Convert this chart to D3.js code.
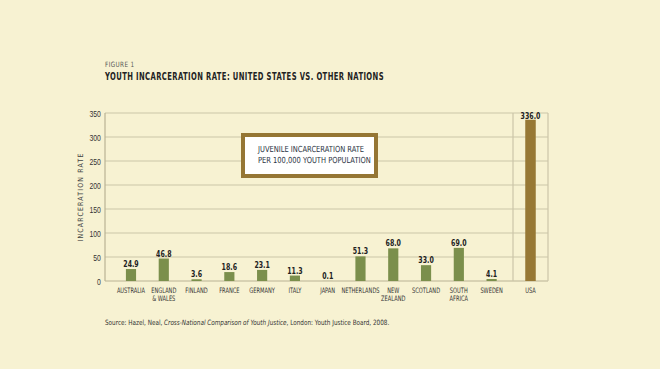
<!DOCTYPE html>
<html>
<head>
<meta charset="utf-8">
<script src="https://cdn.jsdelivr.net/npm/d3@7"></script>
<style>
  body { margin: 0; background: #f7f2d2; }
  svg { display: block; font-family: "DejaVu Sans", sans-serif; }
</style>
</head>
<body>
<svg id="chart"></svg>
<script>
// data
var nations = ["AUSTRALIA", "ENGLAND\n& WALES", "FINLAND", "FRANCE", "GERMANY", "ITALY",
  "JAPAN", "NETHERLANDS", "NEW\nZEALAND", "SCOTLAND", "SOUTH\nAFRICA", "SWEDEN"];
var nationRates = [24.9, 46.8, 3.6, 18.6, 23.1, 11.3, 0.1, 51.3, 68.0, 33.0, 69.0, 4.1];
var usLabel = ["USA"];
var usRate = [336.0];
var yTicks = [0, 50, 100, 150, 200, 250, 300, 350];

var width = 660, height = 369;
var margins = { top: 113, bottom: 88, left: 105, right: 112 };

var svg = d3.select("svg#chart").attr("width", width).attr("height", height);
svg.append("rect").attr("width", width).attr("height", height).attr("fill", "#f7f2d2");

var yScale = d3.scaleLinear().domain([0, 350]).range([height - margins.bottom, margins.top]);
var xScale = d3.scaleBand().domain(nations).range([114.6, 508]).paddingInner(0.69).paddingOuter(0.345);
var xUsa = d3.scaleBand().domain(usLabel).range([513, width - margins.right]).paddingInner(0.7).paddingOuter(0.35);

var x0 = margins.left, x1 = width - margins.right;

// the original uses a condensed face, so squeeze text horizontally
function squeezed(parent, x, y, sx) {
  return parent.append("text").attr("transform", `translate(${x},${y}) scale(${sx},1)`);
}

// header
squeezed(svg, 105, 67, 0.78).text("FIGURE 1")
  .attr("font-size", 7.3).attr("fill", "#555").attr("letter-spacing", 0.5);
squeezed(svg, 105, 80, 0.65).text("YOUTH INCARCERATION RATE: UNITED STATES VS. OTHER NATIONS")
  .attr("font-size", 10.5).attr("font-weight", "bold").attr("fill", "#222").attr("letter-spacing", 0.6);

// gridlines
var grid = svg.append("g");
grid.selectAll("line").data(yTicks).join("line")
  .attr("x1", x0).attr("x2", x1)
  .attr("y1", d => yScale(d)).attr("y2", d => yScale(d))
  .attr("stroke", (d) => d === 0 ? "#b9b294" : "#cbc5a8").attr("stroke-width", 1.2);
grid.append("line").attr("x1", x0).attr("x2", x0).attr("y1", yScale(350)).attr("y2", yScale(0))
  .attr("stroke", "#b9b294").attr("stroke-width", 1.2);
grid.append("line").attr("x1", x1).attr("x2", x1).attr("y1", yScale(350)).attr("y2", yScale(0))
  .attr("stroke", "#cbc5a8").attr("stroke-width", 1.2);
grid.append("line").attr("x1", 513).attr("x2", 513).attr("y1", yScale(350)).attr("y2", yScale(0))
  .attr("stroke", "#cbc5a8").attr("stroke-width", 1.2);

// y axis labels
var yAxis = d3.axisLeft(yScale).tickValues(yTicks).tickSize(0).tickPadding(3);
var yg = svg.append("g").attr("transform", `translate(${x0 - 2},0)`).call(yAxis);
yg.select(".domain").remove();
yg.selectAll("text").attr("font-size", 9.5).attr("fill", "#333").attr("font-family", null)
  .attr("transform", "scale(0.72,1)");

svg.append("text").attr("transform", `translate(83,${yScale(175)}) rotate(-90) scale(0.85,1)`)
  .attr("text-anchor", "middle").text("INCARCERATION RATE")
  .attr("font-size", 7.3).attr("fill", "#444").attr("letter-spacing", 1.4);

// bars
svg.append("g").selectAll("rect").data(nationRates).join("rect")
  .attr("x", (d, i) => xScale(nations[i]))
  .attr("width", xScale.bandwidth())
  .attr("y", d => yScale(d))
  .attr("height", d => yScale(0) - yScale(d))
  .attr("fill", "#7b8f4c");
svg.append("g").selectAll("rect").data(usRate).join("rect")
  .attr("x", (d, i) => xUsa(usLabel[i]))
  .attr("width", xUsa.bandwidth())
  .attr("y", d => yScale(d))
  .attr("height", d => yScale(0) - yScale(d))
  .attr("fill", "#977834");

// value labels
svg.append("g").selectAll("text").data(nationRates).join("text")
  .attr("transform", (d, i) => `translate(${xScale(nations[i]) + xScale.bandwidth() / 2},${yScale(d) - 2}) scale(0.66,1)`)
  .attr("text-anchor", "middle").attr("font-size", 9.5).attr("font-weight", "bold").attr("fill", "#222")
  .text(d => d.toFixed(1));
svg.append("g").selectAll("text").data(usRate).join("text")
  .attr("transform", (d, i) => `translate(${xUsa(usLabel[i]) + xUsa.bandwidth() / 2},${yScale(d) - 1}) scale(0.66,1)`)
  .attr("text-anchor", "middle").attr("font-size", 9.5).attr("font-weight", "bold").attr("fill", "#222")
  .text(d => d.toFixed(1));

// category labels
function catLabels(scale, names) {
  svg.append("g").selectAll("text").data(names).join("text")
    .attr("transform", d => `translate(${scale(d) + scale.bandwidth() / 2},293) scale(0.68,1)`)
    .attr("text-anchor", "middle").attr("font-size", 7.5).attr("fill", "#333")
    .each(function (d) {
      var el = d3.select(this);
      d.split("\n").forEach((line, j) => {
        el.append("tspan").attr("x", 0).attr("dy", j === 0 ? 0 : 8).text(line);
      });
    });
}
catLabels(xScale, nations);
catLabels(xUsa, usLabel);

// legend box
var legend = svg.append("g");
legend.append("rect").attr("x", 243).attr("y", 135).attr("width", 133).attr("height", 41)
  .attr("fill", "#fff").attr("stroke", "#957634").attr("stroke-width", 4);
squeezed(legend, 258, 152, 0.8).text("JUVENILE INCARCERATION RATE")
  .attr("font-size", 8.4).attr("fill", "#2b3444");
squeezed(legend, 258, 163, 0.8).text("PER 100,000 YOUTH POPULATION")
  .attr("font-size", 8.4).attr("fill", "#2b3444");

// source
var src = squeezed(svg, 105, 325, 0.78).attr("font-size", 7.3).attr("fill", "#333");
src.append("tspan").text("Source: Hazel, Neal, ");
src.append("tspan").attr("font-style", "italic").text("Cross-National Comparison of Youth Justice");
src.append("tspan").text(", London: Youth Justice Board, 2008.");
</script>
</body>
</html>
